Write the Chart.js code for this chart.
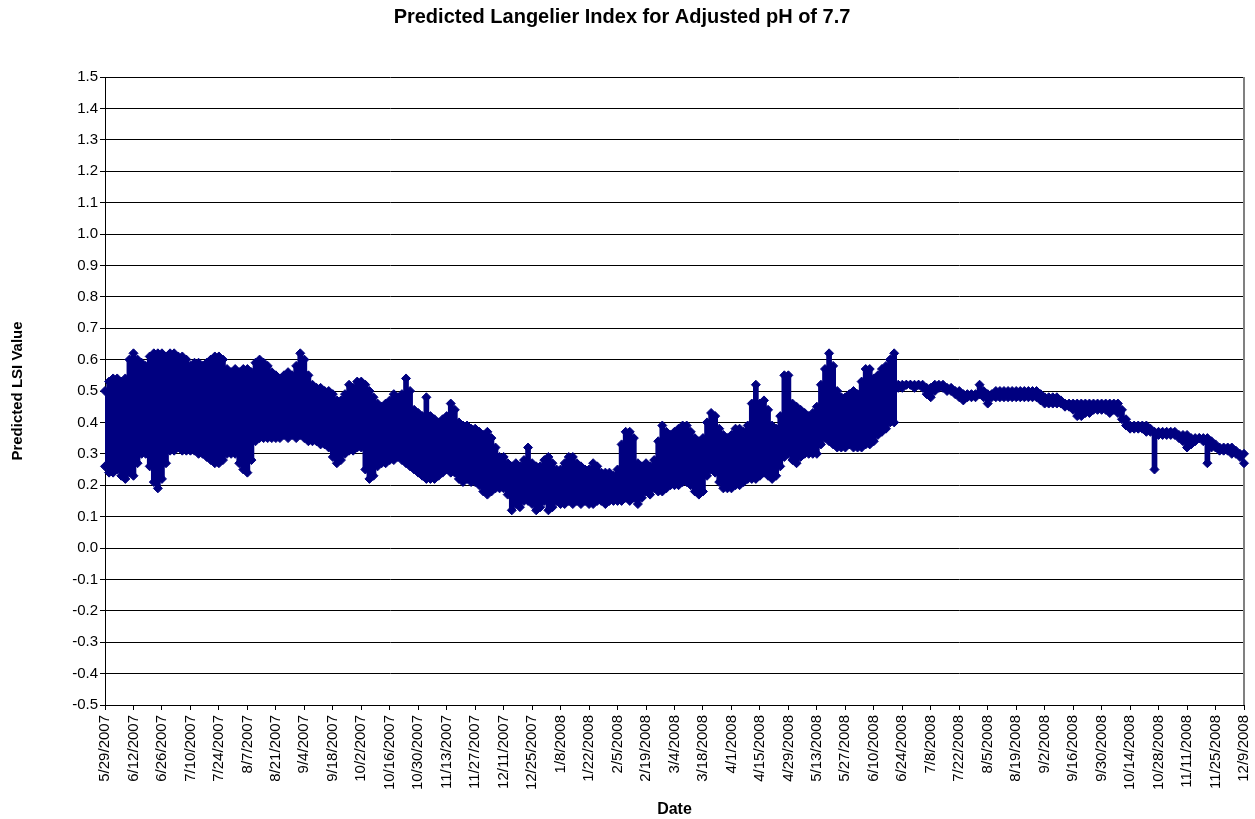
<!DOCTYPE html>
<html lang="en">
<head>
<meta charset="UTF-8">
<title>Predicted Langelier Index for Adjusted pH of 7.7</title>
<script src="https://cdn.jsdelivr.net/npm/chart.js@4.4.1/dist/chart.umd.min.js"></script>
<style>
  html, body { margin: 0; padding: 0; background: #fff; }
  #lsiChart { display: block; }
</style>
</head>
<body>
<canvas id="lsiChart" width="1255" height="819"></canvas>
<script>
// axis labels, one every 14 days
const tickDates = ['5/29/2007', '6/12/2007', '6/26/2007', '7/10/2007', '7/24/2007', '8/7/2007', '8/21/2007',
  '9/4/2007', '9/18/2007', '10/2/2007', '10/16/2007', '10/30/2007', '11/13/2007', '11/27/2007', '12/11/2007',
  '12/25/2007', '1/8/2008', '1/22/2008', '2/5/2008', '2/19/2008', '3/4/2008', '3/18/2008', '4/1/2008',
  '4/15/2008', '4/29/2008', '5/13/2008', '5/27/2008', '6/10/2008', '6/24/2008', '7/8/2008', '7/22/2008',
  '8/5/2008', '8/19/2008', '9/2/2008', '9/16/2008', '9/30/2008', '10/14/2008', '10/28/2008', '11/11/2008',
  '11/25/2008', '12/9/2008'];

// highest / lowest LSI of every second day, 5/29/2007 - 6/22/2008 (one row = 14 days)
const highNoisy = [
  0.50, 0.53, 0.54, 0.54, 0.53, 0.54, 0.60,
  0.62, 0.60, 0.59, 0.58, 0.61, 0.62, 0.62,
  0.62, 0.61, 0.62, 0.62, 0.61, 0.61, 0.60,
  0.58, 0.59, 0.59, 0.58, 0.59, 0.60, 0.61,
  0.61, 0.60, 0.57, 0.56, 0.57, 0.56, 0.57,
  0.57, 0.56, 0.59, 0.60, 0.59, 0.58, 0.56,
  0.55, 0.54, 0.55, 0.56, 0.55, 0.58, 0.62,
  0.60, 0.55, 0.52, 0.51, 0.51, 0.50, 0.50,
  0.49, 0.47, 0.47, 0.49, 0.52, 0.51, 0.53,
  0.53, 0.52, 0.50, 0.48, 0.46, 0.45, 0.46,
  0.47, 0.49, 0.48, 0.49, 0.54, 0.50, 0.44,
  0.43, 0.42, 0.48, 0.42, 0.41, 0.40, 0.41,
  0.42, 0.46, 0.44, 0.40, 0.39, 0.39, 0.38,
  0.38, 0.37, 0.36, 0.37, 0.35, 0.32, 0.29,
  0.29, 0.27, 0.26, 0.27, 0.26, 0.28, 0.32,
  0.27, 0.26, 0.26, 0.28, 0.29, 0.27, 0.25,
  0.25, 0.27, 0.29, 0.29, 0.27, 0.26, 0.25,
  0.25, 0.27, 0.26, 0.24, 0.24, 0.24, 0.23,
  0.25, 0.33, 0.37, 0.37, 0.35, 0.27, 0.26,
  0.27, 0.26, 0.28, 0.34, 0.39, 0.37, 0.36,
  0.37, 0.38, 0.39, 0.39, 0.37, 0.35, 0.34,
  0.35, 0.40, 0.43, 0.42, 0.38, 0.36, 0.35,
  0.36, 0.38, 0.38, 0.37, 0.39, 0.46, 0.52,
  0.46, 0.47, 0.44, 0.39, 0.38, 0.42, 0.55,
  0.55, 0.46, 0.45, 0.44, 0.43, 0.42, 0.43,
  0.45, 0.52, 0.57, 0.62, 0.58, 0.50, 0.48,
  0.48, 0.49, 0.50, 0.49, 0.53, 0.57, 0.57,
  0.54, 0.55, 0.57, 0.58, 0.60, 0.62, 0.52
];
const lowNoisy = [
  0.26, 0.24, 0.24, 0.25, 0.23, 0.22, 0.24,
  0.23, 0.27, 0.30, 0.30, 0.26, 0.21, 0.19,
  0.22, 0.27, 0.31, 0.31, 0.32, 0.31, 0.31,
  0.31, 0.31, 0.30, 0.30, 0.29, 0.28, 0.27,
  0.27, 0.28, 0.30, 0.30, 0.30, 0.27, 0.25,
  0.24, 0.28, 0.34, 0.35, 0.35, 0.35, 0.35,
  0.35, 0.35, 0.36, 0.35, 0.36, 0.35, 0.36,
  0.35, 0.34, 0.34, 0.34, 0.33, 0.33, 0.32,
  0.29, 0.27, 0.28, 0.30, 0.31, 0.31, 0.32,
  0.32, 0.25, 0.22, 0.23, 0.26, 0.27, 0.27,
  0.28, 0.28, 0.29, 0.28, 0.27, 0.26, 0.25,
  0.24, 0.23, 0.22, 0.22, 0.22, 0.23, 0.24,
  0.25, 0.24, 0.24, 0.22, 0.21, 0.22, 0.21,
  0.21, 0.20, 0.18, 0.17, 0.18, 0.19, 0.19,
  0.19, 0.17, 0.12, 0.14, 0.13, 0.15, 0.15,
  0.14, 0.12, 0.13, 0.15, 0.12, 0.13, 0.15,
  0.14, 0.14, 0.15, 0.14, 0.15, 0.14, 0.15,
  0.14, 0.14, 0.15, 0.15, 0.14, 0.15, 0.15,
  0.15, 0.15, 0.16, 0.15, 0.16, 0.14, 0.16,
  0.18, 0.17, 0.19, 0.18, 0.18, 0.19, 0.20,
  0.20, 0.20, 0.21, 0.21, 0.20, 0.18, 0.17,
  0.18, 0.23, 0.25, 0.24, 0.21, 0.19, 0.19,
  0.19, 0.20, 0.20, 0.21, 0.22, 0.22, 0.22,
  0.23, 0.24, 0.23, 0.22, 0.23, 0.26, 0.29,
  0.30, 0.28, 0.27, 0.29, 0.30, 0.30, 0.30,
  0.30, 0.33, 0.35, 0.34, 0.33, 0.32, 0.32,
  0.32, 0.33, 0.32, 0.32, 0.32, 0.33, 0.33,
  0.34, 0.36, 0.37, 0.38, 0.40, 0.40, 0.51
];

// predicted part, 6/24/2008 - 12/9/2008
const highSteady = [
  0.52, 0.52, 0.52, 0.52, 0.52, 0.52, 0.51,
  0.51, 0.52, 0.52, 0.52, 0.51, 0.51, 0.50,
  0.50, 0.49, 0.49, 0.49, 0.49, 0.52, 0.50,
  0.49, 0.49, 0.50, 0.50, 0.50, 0.50, 0.50,
  0.50, 0.50, 0.50, 0.50, 0.50, 0.50, 0.49,
  0.48, 0.48, 0.48, 0.48, 0.47, 0.46, 0.46,
  0.46, 0.46, 0.46, 0.46, 0.46, 0.46, 0.46,
  0.46, 0.46, 0.46, 0.46, 0.46, 0.44, 0.41,
  0.39, 0.39, 0.39, 0.39, 0.39, 0.38, 0.37,
  0.37, 0.37, 0.37, 0.37, 0.37, 0.36, 0.36,
  0.36, 0.35, 0.35, 0.35, 0.35, 0.35, 0.34,
  0.33, 0.32, 0.32, 0.32, 0.32, 0.31, 0.30,
  0.30
];
const lowSteady = [
  0.51, 0.52, 0.52, 0.51, 0.52, 0.51, 0.49,
  0.48, 0.50, 0.51, 0.51, 0.50, 0.50, 0.49,
  0.48, 0.47, 0.48, 0.48, 0.48, 0.49, 0.48,
  0.46, 0.48, 0.48, 0.48, 0.48, 0.48, 0.48,
  0.48, 0.48, 0.48, 0.48, 0.48, 0.48, 0.47,
  0.46, 0.46, 0.46, 0.46, 0.46, 0.45, 0.45,
  0.44, 0.42, 0.42, 0.43, 0.43, 0.44, 0.44,
  0.44, 0.44, 0.43, 0.44, 0.43, 0.41, 0.39,
  0.38, 0.38, 0.38, 0.38, 0.37, 0.37, 0.25,
  0.36, 0.36, 0.36, 0.36, 0.36, 0.35, 0.34,
  0.32, 0.33, 0.34, 0.35, 0.34, 0.27, 0.32,
  0.32, 0.31, 0.31, 0.31, 0.30, 0.30, 0.29,
  0.27
];

const navy = '#000080';
const daysPerSample = 2;
const tickStep = 14;

const high = highNoisy.concat(highSteady);
const low = lowNoisy.concat(lowSteady);
const dayOf = high.map((v, i) => i * daysPerSample);
const lastDay = (tickDates.length - 1) * tickStep;

// spread of each day drawn as a thin floating bar, extremes as diamonds
const spread = dayOf.map((d, i) => ({ x: d, y: [low[i], high[i]] }));
const highPts = dayOf.map((d, i) => ({ x: d, y: high[i] }));
const lowPts = dayOf.map((d, i) => ({ x: d, y: low[i] }));

Chart.defaults.font.family = 'Arial, "Liberation Sans", sans-serif';
Chart.defaults.color = '#000';

const plotFrame = {
    id: 'plotFrame',
    beforeDatasetsDraw(chart) {
        const a = chart.chartArea;
        const c = chart.ctx;
        c.save();
        c.strokeStyle = '#808080';
        c.lineWidth = 2;
        c.beginPath();
        c.moveTo(a.right, a.top);
        c.lineTo(a.right, a.bottom);
        c.stroke();
        c.restore();
    }
};

function diamonds(points) {
    return {
        type: 'line',
        data: points,
        showLine: false,
        pointStyle: 'rectRot',
        pointRadius: 4.5,
        pointBackgroundColor: navy,
        pointBorderColor: navy,
        pointBorderWidth: 1,
        clip: false
    };
}

new Chart(document.getElementById('lsiChart'), {
    type: 'bar',
    data: {
        datasets: [
            {
                type: 'bar',
                data: spread,
                backgroundColor: navy,
                borderWidth: 0,
                barPercentage: 1.4,
                categoryPercentage: 1
            },
            diamonds(highPts),
            diamonds(lowPts)
        ]
    },
    options: {
        responsive: false,
        animation: false,
        devicePixelRatio: 1,
        layout: { padding: { left: 0, right: 11, top: 0, bottom: 0 } },
        plugins: {
            legend: { display: false },
            tooltip: { enabled: false },
            title: {
                display: true,
                text: 'Predicted Langelier Index for Adjusted pH of 7.7',
                font: { size: 20, weight: 'bold' },
                padding: { top: 5, bottom: 48 }
            }
        },
        scales: {
            x: {
                type: 'linear',
                min: 0,
                max: lastDay,
                offset: false,
                grid: { drawOnChartArea: false, tickLength: 5, color: '#000', offset: false },
                border: { color: '#000', width: 1 },
                ticks: {
                    stepSize: tickStep,
                    autoSkip: false,
                    maxTicksLimit: 60,
                    minRotation: 90,
                    maxRotation: 90,
                    padding: 5,
                    font: { size: 15 },
                    callback: v => tickDates[Math.round(v / tickStep)]
                },
                title: {
                    display: true,
                    text: 'Date',
                    font: { size: 16, weight: 'bold' },
                    padding: { top: 0, bottom: 0 }
                },
                afterFit: s => {
                    s.height = 114;
                    s.paddingLeft = 0;
                    s.paddingRight = 0;
                }
            },
            y: {
                min: -0.5,
                max: 1.5,
                grid: { color: '#000', lineWidth: 1, tickLength: 5 },
                border: { color: '#000', width: 1 },
                ticks: {
                    stepSize: 0.1,
                    maxTicksLimit: 30,
                    padding: 2,
                    font: { size: 15 },
                    callback: v => (Math.abs(v) < 1e-9 ? 0 : v).toFixed(1)
                },
                title: {
                    display: true,
                    text: 'Predicted LSI Value',
                    font: { size: 15, weight: 'bold' },
                    padding: { top: 9, bottom: 0 }
                },
                afterFit: s => { s.width = 105; }
            }
        }
    },
    plugins: [plotFrame]
});
</script>
</body>
</html>
